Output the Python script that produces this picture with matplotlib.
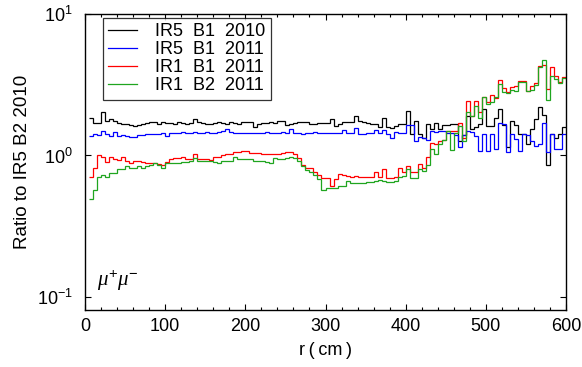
import numpy as np
import matplotlib
matplotlib.use("Agg")
import matplotlib.pyplot as plt
from matplotlib.ticker import MultipleLocator, LogLocator, NullLocator

plt.rcParams['font.family'] = ['Liberation Sans', 'DejaVu Sans']
plt.rcParams['mathtext.fontset'] = 'custom'
plt.rcParams['mathtext.rm'] = 'Liberation Sans'
plt.rcParams['mathtext.it'] = 'Liberation Serif:italic'

# bin edges: 5 cm bins from 5 to 600 cm
edges = np.arange(5, 601, 5)

labels = ["IR5  B1  2010", "IR5  B1  2011", "IR1  B1  2011", "IR1  B2  2011"]
colors = ["black", "#0000ff", "#ff0000", "#1fa51f"]

ir5_b1_2010 = [
    1.83, 1.70, 1.70, 2.04, 1.75, 1.80, 1.75, 1.70, 1.68, 1.66,
    1.64, 1.62, 1.65, 1.66, 1.70, 1.72, 1.72, 1.66, 1.72, 1.70,
    1.70, 1.68, 1.72, 1.70, 1.68, 1.70, 1.80, 1.72, 1.70, 1.68,
    1.66, 1.70, 1.72, 1.70, 1.68, 1.72, 1.70, 1.68, 1.72, 1.72,
    1.72, 1.60, 1.66, 1.70, 1.70, 1.72, 1.70, 1.75, 1.75, 1.64,
    1.68, 1.70, 1.72, 1.72, 1.72, 1.66, 1.68, 1.70, 1.70, 1.70,
    1.80, 1.61, 1.68, 1.72, 1.72, 1.72, 1.90, 1.74, 1.72, 1.70,
    1.66, 1.68, 1.60, 1.85, 1.60, 1.57, 1.62, 1.66, 1.66, 2.05,
    1.43, 1.74, 1.41, 1.34, 1.66, 1.53, 1.69, 1.53, 1.63, 1.63,
    1.66, 1.66, 1.26, 1.40, 1.89, 1.53, 1.60, 1.66, 2.12, 1.61,
    1.61, 1.83, 2.12, 1.63, 1.14, 1.74, 1.63, 1.41, 1.43, 1.20,
    1.53, 1.80, 2.19, 1.92, 0.86, 1.43, 1.34, 1.43, 1.58,
]

ir5_b1_2011 = [
    1.37, 1.42, 1.40, 1.49, 1.42, 1.38, 1.47, 1.38, 1.40, 1.38,
    1.35, 1.36, 1.39, 1.40, 1.41, 1.43, 1.42, 1.41, 1.44, 1.38,
    1.44, 1.45, 1.44, 1.46, 1.45, 1.44, 1.47, 1.44, 1.45, 1.46,
    1.45, 1.44, 1.46, 1.48, 1.53, 1.46, 1.45, 1.45, 1.45, 1.45,
    1.45, 1.44, 1.45, 1.45, 1.46, 1.45, 1.45, 1.45, 1.46, 1.45,
    1.55, 1.45, 1.44, 1.42, 1.45, 1.45, 1.46, 1.45, 1.45, 1.45,
    1.45, 1.45, 1.45, 1.51, 1.45, 1.45, 1.57, 1.42, 1.42, 1.45,
    1.45, 1.51, 1.45, 1.51, 1.42, 1.33, 1.46, 1.45, 1.45, 1.63,
    1.63, 1.26, 1.36, 1.33, 1.28, 1.50, 1.46, 1.48, 1.50, 1.44,
    1.44, 1.40, 1.14, 1.40, 1.48, 1.46, 1.38, 1.07, 1.41, 1.07,
    1.43, 1.12, 1.69, 1.66, 1.05, 1.43, 1.30, 1.07, 1.43, 1.40,
    1.26, 1.16, 1.20, 1.71, 1.05, 1.43, 1.12, 1.12, 1.41,
]

ir1_b1_2011 = [
    0.70, 0.82, 1.00, 0.98, 0.90, 0.97, 0.95, 0.93, 0.97, 0.92,
    0.88, 0.91, 0.91, 0.90, 0.89, 0.88, 0.88, 0.87, 0.86, 0.90,
    0.94, 0.96, 0.96, 0.97, 0.94, 0.95, 1.02, 0.95, 0.95, 0.94,
    0.93, 0.97, 0.98, 1.00, 1.02, 1.02, 1.06, 1.06, 1.07, 1.07,
    1.04, 1.04, 1.04, 1.02, 1.02, 1.02, 1.02, 1.02, 1.04, 1.05,
    1.05, 1.02, 0.96, 0.86, 0.82, 0.82, 0.77, 0.73, 0.69, 0.69,
    0.61, 0.68, 0.74, 0.73, 0.72, 0.71, 0.72, 0.70, 0.71, 0.70,
    0.70, 0.77, 0.70, 0.80, 0.69, 0.69, 0.70, 0.82, 0.77, 0.84,
    0.77, 0.77, 0.87, 0.82, 0.98, 1.22, 1.20, 1.26, 1.28, 1.50,
    1.48, 1.48, 1.71, 1.34, 2.42, 1.89, 2.42, 2.02, 2.58, 2.38,
    2.66, 2.54, 3.40, 2.98, 2.80, 3.04, 3.09, 3.35, 3.35, 2.84,
    3.09, 3.24, 4.28, 4.35, 2.95, 4.20, 3.63, 3.30, 3.60,
]

ir1_b2_2011 = [
    0.49, 0.57, 0.71, 0.73, 0.71, 0.75, 0.75, 0.80, 0.80, 0.84,
    0.82, 0.82, 0.84, 0.82, 0.84, 0.86, 0.88, 0.86, 0.82, 0.89,
    0.89, 0.89, 0.89, 0.90, 0.90, 0.91, 0.96, 0.92, 0.91, 0.91,
    0.91, 0.90, 0.89, 0.91, 0.91, 0.91, 0.98, 0.94, 0.94, 0.94,
    0.94, 0.91, 0.91, 0.91, 0.90, 0.89, 0.96, 0.94, 0.94, 0.96,
    0.98, 0.96, 0.91, 0.84, 0.79, 0.77, 0.73, 0.68, 0.57, 0.59,
    0.59, 0.59, 0.61, 0.61, 0.66, 0.64, 0.64, 0.64, 0.64, 0.65,
    0.65, 0.66, 0.67, 0.66, 0.65, 0.65, 0.66, 0.71, 0.72, 0.80,
    0.69, 0.69, 0.80, 0.78, 0.86, 1.12, 1.02, 1.20, 1.28, 1.50,
    1.10, 1.45, 1.62, 1.26, 2.02, 1.89, 2.22, 1.85, 2.58, 2.30,
    2.38, 2.60, 3.18, 2.80, 2.78, 2.88, 2.86, 3.30, 3.30, 2.84,
    2.90, 3.15, 4.20, 4.72, 2.46, 3.63, 3.46, 3.24, 3.55,
]

series = [ir5_b1_2010, ir5_b1_2011, ir1_b1_2011, ir1_b2_2011]

fig = plt.figure(figsize=(5.82, 3.67), dpi=100)
ax = fig.add_axes([85 / 582, 1 - 310 / 367, 481 / 582, 296 / 367])

for vals, lab, col in zip(series, labels, colors):
    ax.stairs(vals, edges, color=col, lw=0.9, label=lab, baseline=None)

ax.set_yscale('log')
ax.set_xlim(0, 600)
ax.set_ylim(10 ** -1.092, 10)

ax.xaxis.set_major_locator(MultipleLocator(100))
ax.xaxis.set_minor_locator(MultipleLocator(20))
ax.yaxis.set_major_locator(LogLocator(base=10, numticks=5))
ax.yaxis.set_minor_locator(NullLocator())

ax.tick_params(which='both', direction='in', top=True, right=True, labelsize=13)
ax.tick_params(which='major', length=4, width=0.8)
ax.tick_params(which='minor', length=2.5, width=0.8)
ax.tick_params(axis='x', which='major', pad=6)
ax.tick_params(axis='y', which='major', pad=9)
for s in ax.spines.values():
    s.set_linewidth(1.0)

ax.set_xlabel("r\u2009(\u2009cm\u2009)", fontsize=13, labelpad=5)
ax.set_ylabel("Ratio to IR5 B2 2010", fontsize=13.5, labelpad=4)

ax.text(0.025, 0.10, r'$\mu^{+}\mu^{-}$', transform=ax.transAxes,
        fontsize=15, va='center', ha='left')

leg = ax.legend(loc='upper left', bbox_to_anchor=(18 / 481, 1 - 4 / 296),
                frameon=True, fancybox=False, edgecolor='black',
                fontsize=13, handlelength=1.6, handletextpad=1.0,
                borderpad=0.3, labelspacing=0.05, borderaxespad=0)
leg.get_frame().set_linewidth(0.9)

fig.savefig("out.png", dpi=100)
